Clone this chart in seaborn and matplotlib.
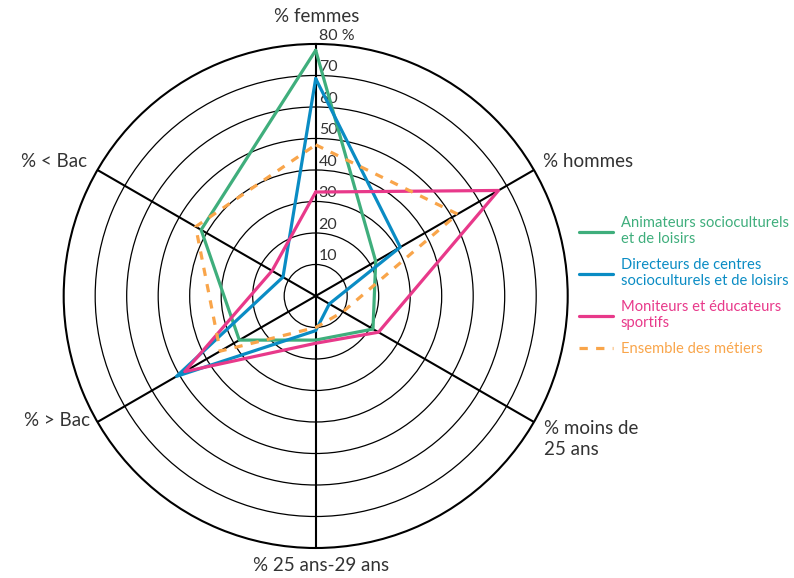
import matplotlib
matplotlib.use('Agg')
import matplotlib.pyplot as plt
import numpy as np
import pandas as pd
import seaborn as sns

# axes of the radar, clockwise from the top
categories = ['% femmes', '% hommes', '% moins de\n25 ans', '% 25 ans-29 ans', '% > Bac', '% < Bac']

animateurs = [78, 22, 21, 14, 28, 42]
directeurs = [69, 31, 5, 11, 51, 12]
moniteurs = [33, 67, 23, 15, 48, 16]
ensemble = [48, 52, 10, 10, 35, 44]

series_names = ['Animateurs socioculturels\net de loisirs',
                'Directeurs de centres\nsocioculturels et de loisirs',
                'Moniteurs et éducateurs\nsportifs',
                'Ensemble des métiers']
series_colors = ['#3fae7c', '#0a8cc4', '#e8398a', '#f9a54a']

r_ticks = [10, 20, 30, 40, 50, 60, 70, 80]
r_tick_labels = ['10', '20', '30', '40', '50', '60', '70', '80 %']

sns.set_theme(style='white')
plt.rcParams['font.family'] = ['Lato', 'DejaVu Sans']
text_color = '#333333'

n = len(categories)
angles = [2 * np.pi * i / n for i in range(n)]

fig = plt.figure(figsize=(7.94, 5.78), dpi=100)
ax = fig.add_axes([0.0802, 0.0519, 0.6348, 0.872], projection='polar')
ax.set_theta_zero_location('N')
ax.set_theta_direction(-1)
ax.set_facecolor('white')

all_values = [animateurs, directeurs, moniteurs, ensemble]
for name, values, color in zip(series_names, all_values, series_colors):
    df = pd.DataFrame({'angle': angles + [angles[0]], 'valeur': values + [values[0]]})
    ls = (0, (2.6, 2.6)) if name == 'Ensemble des métiers' else '-'
    sns.lineplot(data=df, x='angle', y='valeur', ax=ax, sort=False, estimator=None,
                 color=color, lw=2.3, linestyle=ls, label=name, zorder=4)

ax.set_ylim(0, 80)
ax.set_xticks(angles)
ax.set_xticklabels([])
ax.set_yticks(r_ticks[:-1])
ax.set_yticklabels([])
ax.set_xlabel('')
ax.set_ylabel('')
ax.xaxis.grid(True, color='black', lw=1.5)
ax.yaxis.grid(True, color='black', lw=0.9)
ax.spines['polar'].set_color('black')
ax.spines['polar'].set_linewidth(1.5)
ax.tick_params(length=0, pad=0)

for v, lab in zip(r_ticks, r_tick_labels):
    ax.annotate(lab, xy=(0, v), xytext=(3, 1), textcoords='offset pixels',
                ha='left', va='bottom', fontsize=11.5, color=text_color, zorder=1)

# category labels around the circle
offsets = [(1, 27, 'center'), (9, 8, 'left'), (10, -17, 'left'),
           (5, -17, 'center'), (-7, 1, 'right'), (-10, 8, 'right')]
for ang, cat, (dx, dy, ha) in zip(angles, categories, offsets):
    ax.annotate(cat, xy=(ang, 80), xytext=(dx, dy), textcoords='offset pixels',
                ha=ha, va='center', fontsize=13.5, color=text_color,
                linespacing=1.25, annotation_clip=False)

leg = ax.legend(loc='center left', bbox_to_anchor=(0.729, 0.505),
                bbox_transform=fig.transFigure, frameon=False, fontsize=10.6,
                handlelength=2.3, handletextpad=0.55, labelspacing=0.8,
                borderpad=0, borderaxespad=0, labelcolor='linecolor')

fig.savefig('out.png', dpi=100, facecolor='white')
